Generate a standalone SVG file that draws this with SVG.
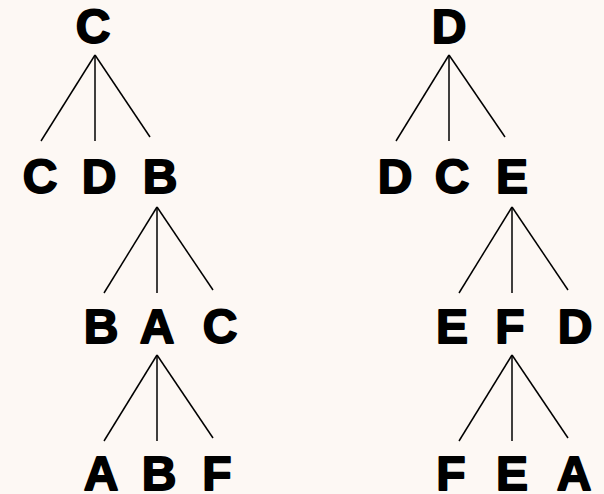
<svg xmlns="http://www.w3.org/2000/svg" width="604" height="494" viewBox="0 0 604 494">
<style>
.n text{font-family:"Liberation Sans",Arial,sans-serif;font-weight:bold;font-size:48px;fill:#000;stroke:#000;stroke-width:1.8;stroke-linejoin:round;text-anchor:middle}
.e line{stroke:#000;stroke-width:1.5}
</style>
<rect width="604" height="494" fill="#fdf8f4"/>
<g id="connectors" class="e">
<line x1="95" y1="55" x2="41" y2="141"/><line x1="95" y1="55" x2="95" y2="141"/><line x1="95" y1="55" x2="150" y2="137"/>
<line x1="449" y1="55" x2="396" y2="141"/><line x1="449" y1="55" x2="449" y2="141"/><line x1="449" y1="55" x2="505" y2="137"/>
<line x1="157" y1="207" x2="104" y2="293"/><line x1="157" y1="207" x2="157" y2="293"/><line x1="157" y1="207" x2="213" y2="290"/>
<line x1="512" y1="207" x2="459" y2="293"/><line x1="512" y1="207" x2="512" y2="293"/><line x1="512" y1="207" x2="568" y2="290"/>
<line x1="157" y1="355" x2="104" y2="441"/><line x1="157" y1="355" x2="157" y2="441"/><line x1="157" y1="355" x2="213" y2="438"/>
<line x1="512" y1="355" x2="459" y2="441"/><line x1="512" y1="355" x2="512" y2="441"/><line x1="512" y1="355" x2="568" y2="438"/>
</g>
<g class="n">
<g id="t1-root"><text x="93" y="43">C</text></g>
<g id="t1-c"><text x="40" y="193">C</text></g>
<g id="t1-d"><text x="99" y="193">D</text></g>
<g id="t1-b"><text x="160" y="193">B</text></g>
<g id="t1-bb"><text x="101" y="343">B</text></g>
<g id="t1-ba"><text x="157" y="343">A</text></g>
<g id="t1-bc"><text x="220" y="343">C</text></g>
<g id="t1-aa"><text x="101" y="490">A</text></g>
<g id="t1-ab"><text x="159" y="490">B</text></g>
<g id="t1-af"><text x="217" y="490">F</text></g>
<g id="t2-root"><text x="449" y="43">D</text></g>
<g id="t2-d"><text x="395" y="193">D</text></g>
<g id="t2-c"><text x="452" y="193">C</text></g>
<g id="t2-e"><text x="512" y="193">E</text></g>
<g id="t2-ee"><text x="452" y="343">E</text></g>
<g id="t2-ef"><text x="510" y="343">F</text></g>
<g id="t2-ed"><text x="575" y="343">D</text></g>
<g id="t2-ff"><text x="451" y="490">F</text></g>
<g id="t2-fe"><text x="512" y="490">E</text></g>
<g id="t2-fa"><text x="574" y="490">A</text></g>
</g>
</svg>
